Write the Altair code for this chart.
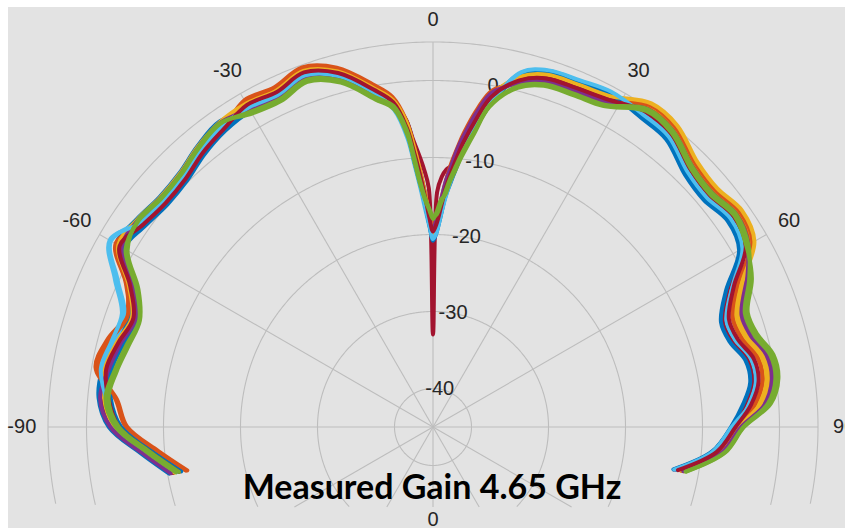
import altair as alt
import pandas as pd

# ---------------- data ----------------
# angle grid (degrees, 0 = broadside/top, clockwise positive)
ANG = [-100, -95, -90, -85, -80, -75, -70, -65, -60, -55, -50, -45, -40, -35, -30, -25, -20, -15, -10,
       -7, -5, -4, -3, -2, -1, 0, 1, 2, 3, 4, 5, 6,
       8, 10, 14, 18, 23, 28, 34, 39, 45, 50, 55, 60, 65, 70, 74, 78, 82, 86, 90, 95, 100]

# gain (dB) per measured trace
BLUE_1 = [-10.2, -6.8, -2.9, -1.4, -1.4, -2.2, -3.1, -1.1, 2.5, 2.0, 1.4, 1.6, 2.6, 3.4, 2.5, 2.2, 3.2, 1.8, -1.3,
          -2.8, -5.0, -8.0, -11.5, -14.5, -17.5, -20.5, -19.5, -17.5, -15.0, -13.0, -11.0, -9.0,
          -5.5, -2.2, 2.4, 3.6, 3.8, 4.2, 3.7, 3.4, 1.6, 1.2, 2.0, 1.2, -2.5, -4.7, -4.4, -3.0, -2.9, -4.2, -5.9, -8.2, -12.9]
ORANGE_1 = [-12.4, -9.0, -5.1, -3.6, -0.5, -1.2, -2.6, -1.2, 2.4, 0.8, 0.2, 0.4, 1.4, 2.2, 3.8, 3.5, 4.5, 3.1, 0.0,
            -2.0, -6.0, -9.8, -13.0, -16.0, -18.5, -19.0, -18.0, -16.0, -13.5, -11.0, -9.0, -7.0,
            -3.5, -0.8, 1.2, 2.4, 2.6, 3.0, 5.1, 4.8, 3.0, 2.6, 3.4, 2.6, -1.1, -3.3, -3.0, -1.6, -1.5, -2.8, -4.9, -7.2, -11.9]
YELLOW_1 = [-11.6, -8.2, -4.3, -2.8, -2.0, -2.8, -3.7, -1.7, 1.9, 1.7, 1.1, 1.3, 2.3, 3.1, 3.4, 3.1, 4.1, 2.7, -0.4,
            -2.4, -5.8, -8.8, -12.0, -15.0, -17.8, -19.8, -18.8, -16.8, -14.2, -12.0, -10.0, -8.0,
            -4.5, -1.5, 1.8, 3.0, 3.2, 3.6, 5.4, 5.1, 3.3, 2.9, 3.7, 2.9, -0.9, -3.1, -2.8, -1.4, -1.3, -2.6, -5.2, -7.5, -12.2]
PURPLE_1 = [-10.8, -7.4, -3.5, -2.0, -2.4, -3.2, -4.1, -2.1, 1.5, 1.1, 0.5, 0.7, 1.7, 2.5, 2.8, 2.5, 3.5, 2.1, -1.0,
            -2.8, -6.5, -9.8, -12.8, -15.8, -18.2, -19.6, -18.4, -16.2, -13.6, -11.2, -9.0, -7.2,
            -3.8, -1.0, 1.3, 2.5, 2.7, 3.1, 4.8, 4.5, 2.7, 2.3, 3.1, 2.3, -0.3, -2.5, -2.2, -0.8, -0.7, -2.0, -5.2, -7.5, -12.2]
LIGHTBLUE_1 = [-11.4, -8.0, -4.1, -2.6, -1.6, -2.2, -2.4, 0.2, 3.3, 1.6, 0.9, 1.0, 2.0, 2.8, 3.2, 2.9, 3.7, 2.1, -1.0,
               -3.5, -7.5, -11.0, -14.0, -16.8, -19.0, -20.5, -19.5, -17.5, -15.0, -13.0, -11.0, -9.2,
               -5.8, -2.4, 2.1, 3.3, 3.5, 3.9, 4.2, 3.9, 2.1, 1.7, 2.5, 1.7, -2.3, -4.5, -4.2, -2.8, -2.7, -4.0, -6.1, -8.4, -13.0]
DARKRED_1 = [-10.7, -7.3, -3.4, -1.9, -2.1, -2.9, -3.8, -1.8, 1.8, 1.2, 0.6, 0.8, 1.8, 2.6, 3.0, 2.7, 3.7, 2.3, -0.8,
             -2.5, -5.0, -7.5, -9.5, -11.5, -14.0, -33.0, -14.5, -12.5, -11.5, -11.0, -9.5, -7.8,
             -4.5, -1.6, 1.7, 2.9, 3.1, 3.5, 4.1, 3.8, 2.0, 1.6, 2.4, 1.6, -2.8, -5.0, -4.7, -3.3, -3.2, -4.5, -6.2, -8.5, -13.2]
BLUE_2 = [-11.8, -8.4, -4.5, -3.0, -2.6, -3.4, -4.3, -2.3, 1.3, 0.6, 0.0, 0.2, 1.2, 2.0, 2.4, 2.1, 3.1, 1.7, -1.4,
          -3.2, -7.0, -10.5, -13.5, -16.2, -18.8, -20.8, -19.8, -17.8, -15.2, -13.4, -11.5, -9.5,
          -6.0, -2.6, 2.2, 3.4, 3.6, 4.0, 3.4, 3.1, 1.3, 0.9, 1.7, 0.9, -3.0, -5.2, -4.9, -3.5, -3.4, -4.7, -6.3, -8.6, -13.3]
ORANGE_2 = [-12.6, -9.2, -5.3, -3.8, -0.8, -1.6, -2.8, -1.0, 2.6, 1.0, 0.4, 0.6, 1.6, 2.4, 4.0, 3.7, 4.7, 3.3, 0.2,
            -1.8, -5.0, -8.0, -11.2, -14.5, -17.2, -18.8, -17.6, -15.5, -13.0, -10.6, -8.6, -6.6,
            -3.2, -0.6, 1.0, 2.2, 2.4, 2.8, 5.4, 5.1, 3.3, 2.9, 3.7, 2.9, -1.4, -3.6, -3.3, -1.9, -1.8, -3.1, -5.1, -7.4, -12.1]
YELLOW_2 = [-10.9, -7.5, -3.6, -2.1, -1.7, -2.5, -3.4, -1.4, 2.2, 1.9, 1.3, 1.5, 2.5, 3.3, 3.5, 3.2, 4.2, 2.8, -0.3,
            -2.2, -5.2, -8.2, -11.4, -14.6, -17.4, -20.0, -18.2, -16.0, -13.4, -11.4, -9.4, -7.4,
            -4.0, -1.2, 1.9, 3.1, 3.3, 3.7, 5.7, 5.4, 3.6, 3.2, 4.0, 3.2, -0.7, -2.9, -2.6, -1.2, -1.1, -2.4, -5.3, -7.6, -12.3]
PURPLE_2 = [-10.4, -7.0, -3.1, -1.6, -2.2, -3.0, -3.9, -1.9, 1.7, 1.8, 1.2, 1.4, 2.4, 3.2, 2.6, 2.3, 3.3, 1.9, -1.2,
            -3.0, -6.8, -10.2, -13.2, -16.0, -18.4, -19.4, -17.8, -15.6, -13.0, -11.0, -8.8, -7.0,
            -3.6, -0.9, 1.0, 2.2, 2.4, 2.8, 4.7, 4.4, 2.6, 2.2, 3.0, 2.2, 0.0, -2.2, -1.9, -0.5, -0.4, -1.7, -5.0, -7.3, -12.0]
LIGHTBLUE_2 = [-11.2, -7.8, -3.9, -2.4, -1.2, -1.8, -2.0, 0.6, 3.5, 1.3, 0.7, 0.9, 1.9, 2.7, 2.9, 2.6, 3.6, 2.2, -0.9,
               -3.3, -7.2, -10.6, -13.6, -16.4, -18.8, -20.6, -19.8, -17.8, -15.4, -13.2, -11.2, -9.3,
               -6.0, -2.5, 2.5, 3.7, 3.9, 4.3, 3.9, 3.6, 1.8, 1.4, 2.2, 1.4, -2.1, -4.3, -4.0, -2.6, -2.5, -3.8, -6.2, -8.5, -13.2]
DARKRED_2 = [-11.5, -8.1, -4.2, -2.7, -1.9, -2.7, -3.6, -1.6, 2.0, 0.9, 0.3, 0.5, 1.5, 2.3, 3.3, 3.0, 4.0, 2.6, -0.5,
             -2.5, -6.0, -9.0, -12.0, -15.0, -17.8, -19.6, -18.6, -16.6, -14.1, -12.0, -10.0, -8.0,
             -4.6, -1.5, 1.4, 2.6, 2.8, 3.2, 4.4, 4.1, 2.3, 1.9, 2.7, 1.9, -1.9, -4.1, -3.8, -2.4, -2.3, -3.6, -5.7, -8.0, -12.7]
GREEN_1 = [-11.5, -8.1, -4.2, -2.7, -3.3, -4.1, -4.5, -2.8, 0.8, 1.8, 1.2, 1.4, 2.4, 3.2, 2.0, 1.7, 2.7, 1.3, -1.8,
           -3.4, -7.0, -10.5, -13.5, -15.5, -16.8, -18.0, -17.0, -15.5, -14.8, -13.0, -11.5, -9.8,
           -6.5, -2.8, 0.4, 1.6, 1.8, 2.2, 4.5, 4.2, 2.4, 2.0, 2.8, 2.0, 0.7, -1.5, -1.2, 0.2, 0.3, -1.0, -4.6, -6.9, -11.6]
GREEN_2 = [-11.1, -7.7, -3.8, -2.3, -3.0, -3.8, -4.4, -2.5, 1.1, 1.7, 1.1, 1.3, 2.3, 3.1, 2.3, 2.0, 3.0, 1.6, -1.5,
           -3.0, -6.4, -9.8, -13.0, -15.2, -16.6, -17.6, -17.4, -16.0, -14.4, -12.6, -11.0, -9.3,
           -6.2, -2.6, 0.6, 1.8, 2.0, 2.4, 4.8, 4.5, 2.7, 2.3, 3.1, 2.3, 0.3, -1.9, -1.6, -0.2, -0.1, -1.4, -4.7, -7.0, -11.7]

TRACES = [BLUE_1, ORANGE_1, YELLOW_1, PURPLE_1, LIGHTBLUE_1, DARKRED_1,
          BLUE_2, ORANGE_2, YELLOW_2, PURPLE_2, LIGHTBLUE_2, DARKRED_2,
          GREEN_1, GREEN_2]
COLORS = ["#0072BD", "#D95319", "#EDB120", "#7E2F8E", "#4DBEEE", "#A2142F",
          "#0072BD", "#D95319", "#EDB120", "#7E2F8E", "#4DBEEE", "#A2142F",
          "#77AC30", "#77AC30"]

R_MIN = -45          # dB at the centre
R_MAX = 5            # dB at the outer ring
RING_DB = [-40, -30, -20, -10, 0, 5]
R_TICK_DB = [-40, -30, -20, -10, 0]
R_TICK_TXT = ["-40", "-30", "-20", "-10", "0"]
RAY_ANG = [0, 30, 60, 90, 120, 150, 180, -150, -120, -90, -60, -30]
T_TICK_ANG = [-90, -60, -30, 0, 30, 60, 90, 180]
T_TICK_TXT = ["-90", "-60", "-30", "0", "30", "60", "90", "0"]
T_TICK_R = [53.4, 53.4, 53.4, 52.9, 53.4, 53.4, 53.4, 12.1]
TITLE = "Measured Gain 4.65 GHz"

# ---------------- layout ----------------
W, H = 837, 521
XDOM = [-55.1948, 53.5065]
YDOM = [-13.1169, 54.5455]
YCLIP = -10.39
GRID = "#bdbdbd"
TXT = "#262626"

xs = alt.Scale(domain=XDOM, nice=False, zero=False)
ys = alt.Scale(domain=YDOM, nice=False, zero=False)

# curves table
ids = [f"t{i:02d}" for i in range(len(TRACES))]
rows = []
for tid, vals in zip(ids, TRACES):
    for j, (a, d) in enumerate(zip(ANG, vals)):
        rows.append({"trace": tid, "idx": j, "ang": a, "db": d})
curves_df = pd.DataFrame(rows)

# ring table (grid)
ring_rows = []
for d in RING_DB:
    for k in range(0, 721):
        ring_rows.append({"ring": d, "a": -180 + k * 0.5})
ring_df = pd.DataFrame(ring_rows)

rings = alt.Chart(ring_df).transform_calculate(
    r=f"datum.ring - ({R_MIN})",
    x="datum.r * sin(datum.a * PI / 180)",
    y="datum.r * cos(datum.a * PI / 180)",
).transform_filter(f"datum.y >= {YCLIP}").mark_line(
    stroke=GRID, strokeWidth=1.1
).encode(
    x=alt.X("x:Q", scale=xs, axis=None),
    y=alt.Y("y:Q", scale=ys, axis=None),
    detail="ring:N",
    order="a:Q",
)

rays = alt.Chart(pd.DataFrame({"a": RAY_ANG})).transform_calculate(
    c="cos(datum.a * PI / 180)",
    s="sin(datum.a * PI / 180)",
    rm=f"datum.c < 0 ? min({R_MAX - R_MIN}, {-YCLIP} / (-datum.c)) : {R_MAX - R_MIN}",
    x0="0", y0="0",
    x1="datum.rm * datum.s",
    y1="datum.rm * datum.c",
).mark_rule(stroke=GRID, strokeWidth=1.1).encode(
    x=alt.X("x0:Q", scale=xs, axis=None),
    y=alt.Y("y0:Q", scale=ys, axis=None),
    x2="x1:Q",
    y2="y1:Q",
)

rlabels = alt.Chart(pd.DataFrame({"db": R_TICK_DB, "t": R_TICK_TXT})).transform_calculate(
    r=f"datum.db - ({R_MIN})",
    x="datum.r * sin(10 * PI / 180)",
    y="datum.r * cos(10 * PI / 180)",
).mark_text(font="Liberation Sans", fontSize=20, color=TXT, align="center", baseline="middle").encode(
    x=alt.X("x:Q", scale=xs, axis=None),
    y=alt.Y("y:Q", scale=ys, axis=None),
    text="t:N",
)

tlabels = alt.Chart(pd.DataFrame({"a": T_TICK_ANG, "t": T_TICK_TXT, "r": T_TICK_R})).transform_calculate(
    x="datum.r * sin(datum.a * PI / 180)",
    y="datum.r * cos(datum.a * PI / 180)",
).mark_text(font="Liberation Sans", fontSize=20, color=TXT, align="center", baseline="middle").encode(
    x=alt.X("x:Q", scale=xs, axis=None),
    y=alt.Y("y:Q", scale=ys, axis=None),
    text="t:N",
)

lines = alt.Chart(curves_df).transform_calculate(
    r=f"datum.db - ({R_MIN})",
    x="datum.r * sin(datum.ang * PI / 180)",
    y="datum.r * cos(datum.ang * PI / 180)",
).mark_line(interpolate="catmull-rom", strokeWidth=4.0, strokeCap="round", strokeJoin="round").encode(
    x=alt.X("x:Q", scale=xs, axis=None),
    y=alt.Y("y:Q", scale=ys, axis=None),
    color=alt.Color("trace:N", scale=alt.Scale(domain=ids, range=COLORS), legend=None),
    detail="trace:N",
    order="idx:Q",
)

title = alt.Chart(pd.DataFrame({"t": [TITLE]})).mark_text(
    font="Lato", fontSize=34, fontWeight="bold", color="#000000", align="center", baseline="middle"
).encode(x=alt.value(424), y=alt.value(482), text="t:N")

chart = alt.layer(rings, rays, rlabels, tlabels, lines, title).properties(
    width=W, height=H,
    padding={"left": 8, "top": 7, "right": 0, "bottom": 0},
    autosize=alt.AutoSizeParams(type="none"),
    background="#ffffff",
).configure_view(fill="#e3e3e3", stroke=None)

chart.save("out.html", embed_options={"renderer": "svg", "actions": False})
